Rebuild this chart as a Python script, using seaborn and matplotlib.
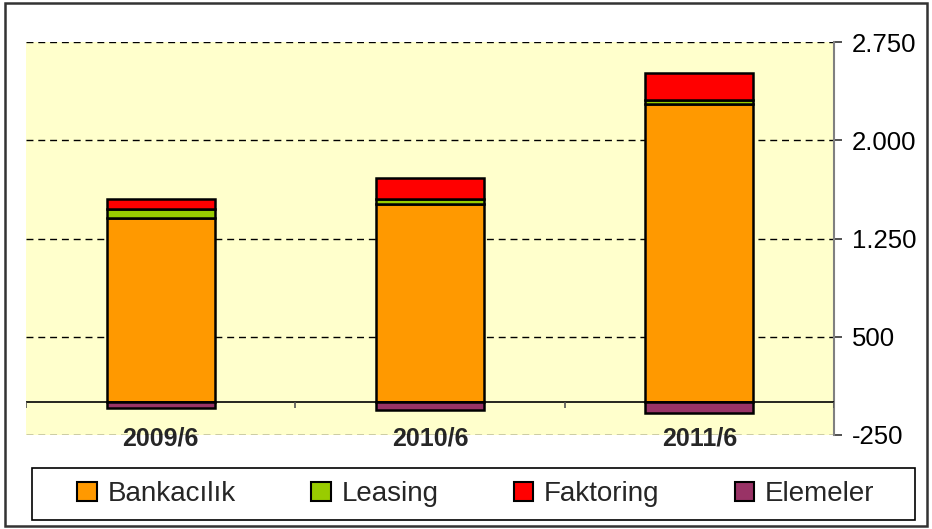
import matplotlib
matplotlib.use("Agg")
import matplotlib.pyplot as plt
import matplotlib.patches as mpatches
from matplotlib.ticker import FuncFormatter
import numpy as np
import pandas as pd
import seaborn as sns

# ---- data ----
periods = ["2009/6", "2010/6", "2011/6"]
bankacilik = [1405, 1515, 2275]
leasing = [70, 40, 30]
faktoring = [75, 160, 205]
elemeler = [-45, -60, -85]
series_names = ["Bankacılık", "Leasing", "Faktoring", "Elemeler"]
y_ticks = [-250, 500, 1250, 2000, 2750]

colors = {"Bankacılık": "#FF9900", "Leasing": "#99CC00",
          "Faktoring": "#FF0000", "Elemeler": "#993366"}

sns.set_style("white")
plt.rcParams["font.family"] = ["Liberation Sans", "DejaVu Sans"]

fig = plt.figure(figsize=(9.32, 5.29), dpi=100)
ax = fig.add_axes([26/932, 1-435/529, (834-26)/932, (435-42)/529])
ax.set_facecolor("#FFFFCC")

df = pd.DataFrame({"period": periods, "Bankacılık": bankacilik,
                   "Leasing": leasing, "Faktoring": faktoring,
                   "Elemeler": elemeler})

bar_kw = dict(edgecolor="black", linewidth=1.8, width=0.4, ax=ax, zorder=3)
b1 = np.array(bankacilik, dtype=float)
b2 = b1 + np.array(leasing)
sns.barplot(data=df, x="period", y="Bankacılık", color=colors["Bankacılık"],
            saturation=1, **bar_kw)
sns.barplot(data=df, x="period", y="Leasing", bottom=b1, color=colors["Leasing"],
            saturation=1, **bar_kw)
sns.barplot(data=df, x="period", y="Faktoring", bottom=b2, color=colors["Faktoring"],
            saturation=1, **bar_kw)
sns.barplot(data=df, x="period", y="Elemeler", color=colors["Elemeler"],
            saturation=1, **bar_kw)

ax.set_xlim(-0.5, len(periods) - 0.5)
ax.set_ylim(y_ticks[0], y_ticks[-1])
ax.set_xlabel("")
ax.set_ylabel("")

# gridlines
for t in y_ticks:
    ax.axhline(t, color="black", lw=1, linestyle=(0, (5, 3.5)), zorder=1)

# x axis at zero with category separators
ax.axhline(0, color="black", lw=1.2, zorder=4)
bounds = np.arange(len(periods) + 1) - 0.5
ax.vlines(bounds, -45, 0, color="#555555", lw=1.2, zorder=4)

# right y axis
ax.yaxis.tick_right()
ax.set_yticks(y_ticks)
ax.yaxis.set_major_formatter(FuncFormatter(lambda v, p: f"{int(v):,}".replace(",", ".")))
ax.tick_params(axis="y", which="major", direction="out", length=6, width=1.2,
               color="#333333", pad=7, labelsize=18.5, labelcolor="black")
ax.set_xticks(range(len(periods)))
ax.set_xticklabels(periods, fontsize=18, fontweight="bold")
ax.tick_params(axis="x", length=0, pad=-6)

for s in ["left", "top", "bottom"]:
    ax.spines[s].set_visible(False)
ax.spines["right"].set_color("#808080")
ax.spines["right"].set_linewidth(1.5)

# legend
handles = [mpatches.Patch(facecolor=colors[n], edgecolor="black", linewidth=1.5, label=n)
           for n in series_names]
leg = fig.legend(handles=handles, loc="center", ncol=4,
                 bbox_to_anchor=(476/932, 1-494/529),
                 fontsize=20, frameon=False,
                 handlelength=0.7, handleheight=0.7, handletextpad=0.4,
                 columnspacing=2.7, borderpad=0, borderaxespad=0)
fig.patches.append(mpatches.Rectangle((32/932, 1-520/529), (915-32)/932, 52/529,
                                      transform=fig.transFigure, fill=False,
                                      edgecolor="black", linewidth=1.2))

# figure border
fig.patches.append(mpatches.Rectangle((5/932, 3/529), (927-5)/932, (526-3)/529,
                                      transform=fig.transFigure, fill=False,
                                      edgecolor="#333333", linewidth=1.8))

fig.savefig("out.png", dpi=100)
